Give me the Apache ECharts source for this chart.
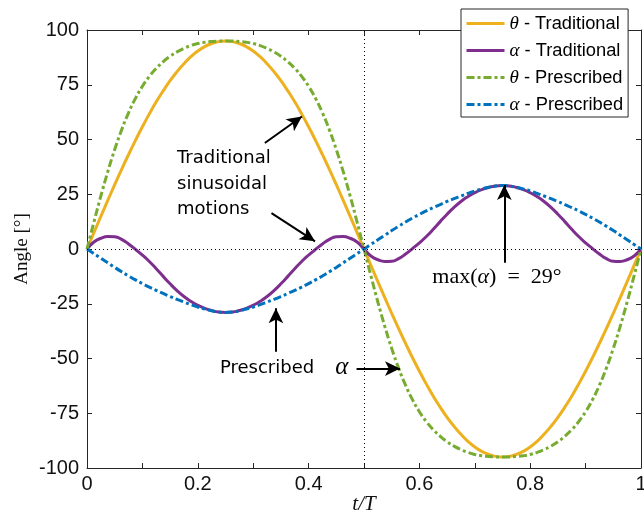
<!DOCTYPE html>
<html>
<head>
<meta charset="utf-8">
<script src="https://cdn.jsdelivr.net/npm/echarts@6/dist/echarts.min.js"></script>
<style>
html,body{margin:0;padding:0;background:#fff;overflow:hidden;}
#c{width:644px;height:519px;}
</style>
</head>
<body>
<div id="c"></div>
<script>
// ---- data ----
const tVals = [0,0.0125,0.025,0.0375,0.05,0.0625,0.075,0.0875,0.1,0.1125,0.125,0.1375,0.15,0.1625,0.175,0.1875,0.2,0.2125,0.225,0.2375,
  0.25,0.2625,0.275,0.2875,0.3,0.3125,0.325,0.3375,0.35,0.3625,0.375,0.3875,0.4,0.4125,0.425,0.4375,0.45,0.4625,0.475,0.4875,
  0.5,0.5125,0.525,0.5375,0.55,0.5625,0.575,0.5875,0.6,0.6125,0.625,0.6375,0.65,0.6625,0.675,0.6875,0.7,0.7125,0.725,0.7375,
  0.75,0.7625,0.775,0.7875,0.8,0.8125,0.825,0.8375,0.85,0.8625,0.875,0.8875,0.9,0.9125,0.925,0.9375,0.95,0.9625,0.975,0.9875,1];
const thetaTrad = [0,7.5,14.9,22.2,29.4,36.4,43.1,49.6,55.8,61.7,67.2,72.2,76.9,81.0,84.6,87.8,90.4,92.4,93.8,94.7,
  95,94.7,93.8,92.4,90.4,87.8,84.6,81.0,76.9,72.2,67.2,61.7,55.8,49.6,43.1,36.4,29.4,22.2,14.9,7.5,
  0,-7.5,-14.9,-22.2,-29.4,-36.4,-43.1,-49.6,-55.8,-61.7,-67.2,-72.2,-76.9,-81.0,-84.6,-87.8,-90.4,-92.4,-93.8,-94.7,
  -95,-94.7,-93.8,-92.4,-90.4,-87.8,-84.6,-81.0,-76.9,-72.2,-67.2,-61.7,-55.8,-49.6,-43.1,-36.4,-29.4,-22.2,-14.9,-7.5,0];
const alphaTrad = [0,3.2,4.9,5.7,5.6,4.4,2.3,-0.2,-2.8,-5.7,-9.0,-12.5,-15.9,-19.0,-21.7,-23.9,-25.7,-27.1,-28.1,-28.8,
  -29,-28.8,-28.1,-27.1,-25.7,-23.9,-21.7,-19.0,-15.9,-12.5,-9.0,-5.7,-2.8,-0.2,2.3,4.4,5.6,5.7,4.9,3.2,
  0,-3.2,-4.9,-5.7,-5.6,-4.4,-2.3,0.2,2.8,5.7,9.0,12.5,15.9,19.0,21.7,23.9,25.7,27.1,28.1,28.8,
  29,28.8,28.1,27.1,25.7,23.9,21.7,19.0,15.9,12.5,9.0,5.7,2.8,0.2,-2.3,-4.4,-5.6,-5.7,-4.9,-3.2,0];
const thetaPresc = [0,12.3,24.2,35.3,45.4,54.4,62.2,68.8,74.3,78.8,82.5,85.5,88.0,90.0,91.6,92.9,93.8,94.4,94.75,94.95,
  95,94.95,94.75,94.4,93.8,92.9,91.6,90.0,88.0,85.5,82.5,78.8,74.3,68.8,62.2,54.4,45.4,35.3,24.2,12.3,
  0,-12.3,-24.2,-35.3,-45.4,-54.4,-62.2,-68.8,-74.3,-78.8,-82.5,-85.5,-88.0,-90.0,-91.6,-92.9,-93.8,-94.4,-94.75,-94.95,
  -95,-94.95,-94.75,-94.4,-93.8,-92.9,-91.6,-90.0,-88.0,-85.5,-82.5,-78.8,-74.3,-68.8,-62.2,-54.4,-45.4,-35.3,-24.2,-12.3,0];
const alphaPresc = [0,-2.1,-4.2,-6.3,-8.4,-10.4,-12.3,-14.1,-15.8,-17.4,-18.9,-20.3,-21.7,-23.0,-24.2,-25.4,-26.5,-27.4,-28.2,-28.8,
  -29,-28.8,-28.2,-27.4,-26.5,-25.4,-24.2,-23.0,-21.7,-20.3,-18.9,-17.4,-15.8,-14.1,-12.3,-10.4,-8.4,-6.3,-4.2,-2.1,
  0,2.1,4.2,6.3,8.4,10.4,12.3,14.1,15.8,17.4,18.9,20.3,21.7,23.0,24.2,25.4,26.5,27.4,28.2,28.8,
  29,28.8,28.2,27.4,26.5,25.4,24.2,23.0,21.7,20.3,18.9,17.4,15.8,14.1,12.3,10.4,8.4,6.3,4.2,2.1,0];
const seriesNames = ['θ - Traditional','α - Traditional','θ - Prescribed','α - Prescribed'];
const xTickLabels = {0:'0',2:'0.2',4:'0.4',6:'0.6',8:'0.8',10:'1'};
const yTickLabels = [-100,-75,-50,-25,0,25,50,75,100];

const pairs = arr => tVals.map((t,i)=>[t,arr[i]]);
const colors = ['#EDB120','#7E2F8E','#77AC30','#0072BD'];
const dashDot = [8,3,3,3];

const chart = echarts.init(document.getElementById('c'), null, {renderer:'canvas', width:644, height:519});
const axisCol = '#262626';
const tickFont = {fontFamily:'Liberation Sans', fontSize:20, color:'#111'};

function lineSeries(name, arr, color, dash){
  return {
    name, type:'line', data:pairs(arr), smooth:true, symbol:'none', showSymbol:false,
    lineStyle:{color, width:3, type: dash ? dashDot : 'solid'},
    itemStyle:{color}, z:3, silent:true
  };
}

const arrowLine = (a,b)=>[{coord:a, symbol:'none'},{coord:b, symbol:'arrow', symbolSize:[11,15]}];

chart.setOption({
  animation:false,
  backgroundColor:'#fff',
  grid:{left:87, right:3, top:30, bottom:51, containLabel:false, outerBoundsMode:'none'},
  legend:{
    data:seriesNames, orient:'vertical', left:461, top:9,
    backgroundColor:'#fff', borderColor:'#262626', borderWidth:1,
    padding:[5,5,3,4], itemGap:8, itemWidth:38, itemHeight:14,
    itemStyle:{opacity:0},
    lineStyle:{width:3},
    textStyle:{fontFamily:'Liberation Sans', fontSize:18.3, color:'#000',
      rich:{g:{fontFamily:'Liberation Serif', fontStyle:'italic', fontSize:19, color:'#000'}}},
    formatter: n => '{g|'+n.charAt(0)+'}'+n.slice(1),
    z:10
  },
  xAxis:[{
    type:'value', min:0, max:1, interval:0.1,
    name:'t/T', nameLocation:'middle', nameGap:26, nameMoveOverlap:false,
    nameTextStyle:{fontFamily:'Liberation Serif', fontStyle:'italic', fontSize:21, color:'#111'},
    axisLine:{onZero:false, lineStyle:{color:axisCol, width:1}},
    axisTick:{inside:true, length:5, lineStyle:{color:axisCol}},
    axisLabel:{margin:6, ...tickFont, formatter:v=>{const k=Math.round(v*10); return xTickLabels[k]!==undefined?xTickLabels[k]:'';}},
    splitLine:{show:false}
  },{
    type:'value', min:0, max:1, interval:0.1, position:'top',
    axisLine:{onZero:false, lineStyle:{color:axisCol, width:1}},
    axisTick:{inside:true, length:5, lineStyle:{color:axisCol}},
    axisLabel:{show:false}, splitLine:{show:false}
  }],
  yAxis:[{
    type:'value', min:-100, max:100, interval:25,
    name:'Angle [°]', nameLocation:'middle', nameGap:55, nameRotate:90, nameMoveOverlap:false,
    nameTextStyle:{fontFamily:'Liberation Serif', fontSize:19, color:'#111'},
    axisLine:{show:true, onZero:false, lineStyle:{color:axisCol, width:1}},
    axisTick:{show:true, inside:true, length:5, lineStyle:{color:axisCol}},
    axisLabel:{margin:8, ...tickFont, formatter:v=>yTickLabels.includes(v)?String(v):''},
    splitLine:{show:false}
  },{
    type:'value', min:-100, max:100, interval:25, position:'right',
    axisLine:{show:true, onZero:false, lineStyle:{color:axisCol, width:1}},
    axisTick:{show:true, inside:true, length:5, lineStyle:{color:axisCol}},
    axisLabel:{show:false}, splitLine:{show:false}
  }],
  series:[
    {
      name:'refLines', type:'line', data:[], z:1, silent:true,
      markLine:{silent:true, symbol:'none', label:{show:false},
        lineStyle:{color:'#000', width:1, type:[1,3]},
        emphasis:{disabled:true},
        data:[{yAxis:0},{xAxis:0.5}]}
    },
    lineSeries(seriesNames[0], thetaTrad, colors[0], false),
    lineSeries(seriesNames[1], alphaTrad, colors[1], false),
    lineSeries(seriesNames[2], thetaPresc, colors[2], true),
    lineSeries(seriesNames[3], alphaPresc, colors[3], true),
    {
      name:'annotations', type:'line', data:[], z:5, silent:true,
      markLine:{silent:true, label:{show:false}, emphasis:{disabled:true},
        lineStyle:{color:'#000', width:2, type:'solid'},
        itemStyle:{color:'#000'},
        data:[
          arrowLine([0.321,48.4],[0.388,60.5]),
          arrowLine([0.333,16.4],[0.4116,3.5]),
          arrowLine([0.341,-46.9],[0.341,-27.1]),
          arrowLine([0.4866,-54.6],[0.565,-54.6]),
          arrowLine([0.7533,-6.3],[0.7533,29.2])
        ]},
      markPoint:{silent:true, symbol:'rect', symbolSize:1, itemStyle:{color:'rgba(0,0,0,0)'},
        emphasis:{disabled:true},
        data:[
          {coord:[0.1625,29.7], label:{show:true, position:'inside', formatter:'Traditional\nsinusoidal\nmotions',
            align:'left', verticalAlign:'middle', fontFamily:'DejaVu Sans', fontSize:18, lineHeight:25.5, color:'#000'}},
          {coord:[0.240,-54.6], label:{show:true, position:'inside', formatter:'Prescribed{a|α}',
            align:'left', verticalAlign:'middle', fontFamily:'DejaVu Sans', fontSize:18, color:'#000',
            rich:{a:{fontFamily:'Liberation Serif', fontStyle:'italic', fontSize:25, color:'#000', padding:[0,0,2,21]}}}},
          {coord:[0.740,-12.8], label:{show:true, position:'inside', formatter:'max({i|α})\u2002=\u200229°',
            align:'center', verticalAlign:'middle', fontFamily:'Liberation Serif', fontSize:22, color:'#000',
            rich:{i:{fontFamily:'Liberation Serif', fontStyle:'italic', fontSize:22, color:'#000'}}}}
        ]}
    }
  ]
});
</script>
</body>
</html>
